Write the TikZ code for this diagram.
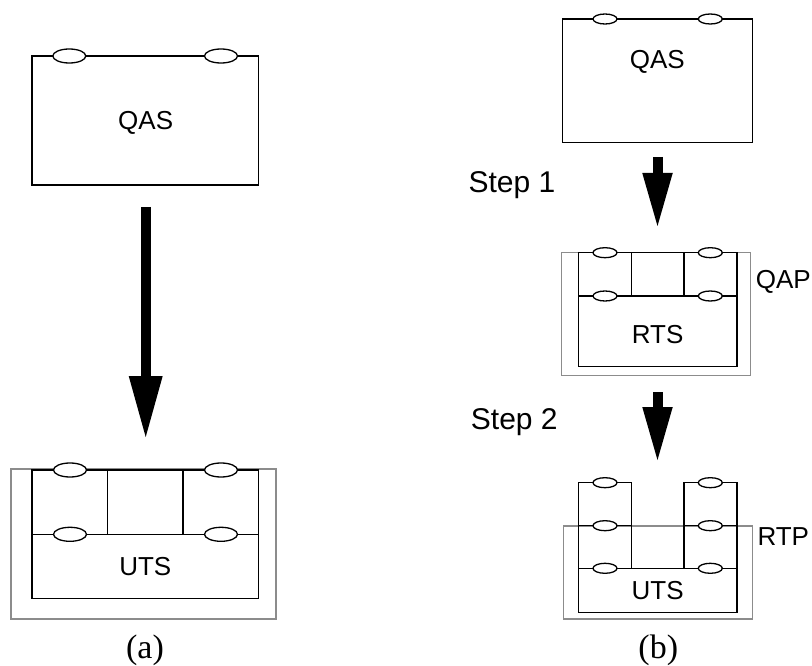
\documentclass[tikz,border=0pt]{standalone}
\usepackage{fontspec}
\setmainfont{Liberation Serif}
\newfontfamily\sansf{Liberation Sans}
\usetikzlibrary{arrows.meta,shapes.geometric}
\begin{document}
\begin{tikzpicture}[x=1pt,y=-1pt,
  blk/.style={draw=black, line width=1.5pt, inner sep=0pt, outer sep=0pt, anchor=north west},
  frame/.style={draw=black!45, line width=1.3pt, inner sep=0pt, outer sep=0pt, anchor=north west},
  wire/.style={draw=black, line width=1.5pt},
  portL/.style={ellipse, draw=black, fill=white, line width=1.3pt, minimum width=33pt, minimum height=14pt, inner sep=0pt},
  portS/.style={ellipse, draw=black, fill=white, line width=1.3pt, minimum width=24pt, minimum height=10pt, inner sep=0pt},
  lbl/.style={font=\sansf\fontsize{26}{30}\selectfont, inner sep=0pt},
  steplbl/.style={font=\sansf\fontsize{30}{34}\selectfont, inner sep=0pt, anchor=west},
  captxt/.style={font=\fontsize{34}{38}\selectfont, inner sep=0pt},
  bigarrowL/.style={line width=10pt, -{Triangle[width=34pt,length=61pt,line width=0pt]}},
  bigarrowS/.style={line width=10pt, -{Triangle[width=30.5pt,length=53pt,line width=0pt]}}
]
\useasboundingbox (0,0) rectangle (812,666);

% ---------------- (a) ----------------
\node[blk, minimum width=226.7pt, minimum height=129pt] (qasA) at (32,56) {};
\node[lbl] (qasAt) at (145.7,123) {QAS};
\node[portL] (qasAp1) at (69.3,56) {};
\node[portL] (qasAp2) at (221,56) {};

\coordinate (arA1) at (145.7,207);
\coordinate (arA2) at (145.7,437);
\draw[bigarrowL] (arA1) -- (arA2);

\node[frame, minimum width=265pt, minimum height=150pt] (frA) at (11,469) {};
\node[blk, minimum width=226.7pt, minimum height=128.3pt] (utsA) at (32,470) {};
\coordinate (uA1) at (32,534.3);
\coordinate (uA2) at (258.7,534.3);
\draw[wire] (uA1) -- (uA2);
\coordinate (vA1t) at (107.3,470);
\coordinate (vA1b) at (107.3,534.3);
\coordinate (vA2t) at (183,470);
\coordinate (vA2b) at (183,534.3);
\draw[wire] (vA1t) -- (vA1b);
\draw[wire] (vA2t) -- (vA2b);
\node[portL] (uApa) at (70,470) {};
\node[portL] (uApb) at (221,470) {};
\node[portL] (uApc) at (70,534.3) {};
\node[portL] (uApd) at (221,534.3) {};
\node[lbl] (utsAt) at (145.3,566.7) {UTS};
\node[captxt] (capA) at (145,650) {(a)};

% ---------------- (b) ----------------
\node[blk, minimum width=189.6pt, minimum height=123.3pt] (qasB) at (562.7,19) {};
\node[lbl] (qasBt) at (657.3,62.3) {QAS};
\node[portS] (qasBp1) at (605,19) {};
\node[portS] (qasBp2) at (710.3,19) {};

\node[steplbl] (st1) at (468.3,185) {Step 1};
\coordinate (arB1) at (657.5,157);
\coordinate (arB2) at (657.5,226);
\draw[bigarrowS] (arB1) -- (arB2);

\node[frame, minimum width=189.4pt, minimum height=123.4pt] (frQAP) at (561.3,252.3) {};
\node[blk, minimum width=158.7pt, minimum height=114pt] (rts) at (578.3,252.7) {};
\coordinate (rM1) at (578.3,296);
\coordinate (rM2) at (737,296);
\draw[wire] (rM1) -- (rM2);
\coordinate (rV1t) at (631.3,252.7);
\coordinate (rV1b) at (631.3,296);
\coordinate (rV2t) at (684,252.7);
\coordinate (rV2b) at (684,296);
\draw[wire] (rV1t) -- (rV1b);
\draw[wire] (rV2t) -- (rV2b);
\node[portS] (rpa) at (605,252.7) {};
\node[portS] (rpb) at (710.3,252.7) {};
\node[portS] (rpc) at (605,296) {};
\node[portS] (rpd) at (710.3,296) {};
\node[lbl] (rtst) at (657.7,334.3) {RTS};
\node[lbl] (qap) at (783.3,281.7) {QAP};

\node[steplbl] (st2) at (470.7,421.7) {Step 2};
\coordinate (arC1) at (657.5,392);
\coordinate (arC2) at (657.5,460);
\draw[bigarrowS] (arC1) -- (arC2);

\node[frame, minimum width=189.4pt, minimum height=93pt] (frRTP) at (563.3,526) {};
\node[blk, minimum width=158.7pt, minimum height=44pt] (utsB) at (578.3,568.3) {};
% left column
\coordinate (cL1) at (578.3,568.3);
\coordinate (cL2) at (578.3,482.7);
\coordinate (cL3) at (631.3,482.7);
\coordinate (cL4) at (631.3,568.3);
\draw[wire] (cL1) -- (cL2) -- (cL3) -- (cL4);
\coordinate (hL1) at (578.3,525.7);
\coordinate (hL2) at (631.3,525.7);
\draw[wire] (hL1) -- (hL2);
% right column
\coordinate (cR1) at (684,568.3);
\coordinate (cR2) at (684,482.7);
\coordinate (cR3) at (737,482.7);
\coordinate (cR4) at (737,568.3);
\draw[wire] (cR1) -- (cR2) -- (cR3) -- (cR4);
\coordinate (hR1) at (684,525.7);
\coordinate (hR2) at (737,525.7);
\draw[wire] (hR1) -- (hR2);
\node[portS] (upa) at (605,482.7) {};
\node[portS] (upb) at (710.3,482.7) {};
\node[portS] (upc) at (605,525.7) {};
\node[portS] (upd) at (710.3,525.7) {};
\node[portS] (upe) at (605,568.3) {};
\node[portS] (upf) at (710.3,568.3) {};
\node[lbl] (utsBt) at (657.7,590.7) {UTS};
\node[lbl] (rtp) at (783.3,536.7) {RTP};
\node[captxt] (capB) at (658.3,650) {(b)};
\end{tikzpicture}
\end{document}
